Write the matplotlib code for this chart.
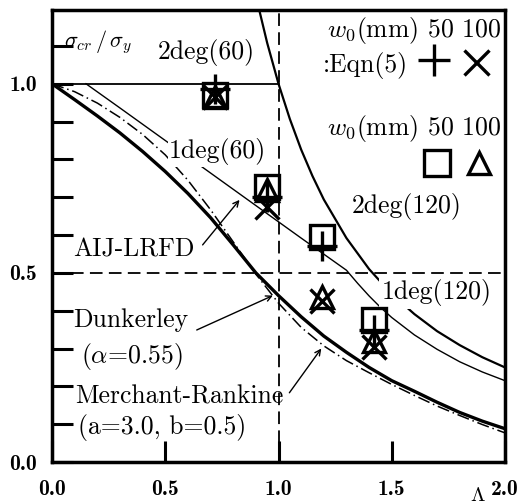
import matplotlib
matplotlib.use("Agg")
import matplotlib.pyplot as plt
from matplotlib.ticker import MultipleLocator, FixedLocator

plt.rcParams["mathtext.fontset"] = "cm"
plt.rcParams["axes.formatter.use_mathtext"] = True

# ---------------------------------------------------------------------------
# Curves
# ---------------------------------------------------------------------------
# Euler buckling, capped at 1.0 for short columns
EULER_X = [0.915, 0.95, 1.0, 1.05, 1.1, 1.15, 1.2, 1.3, 1.4, 1.5, 1.6, 1.7, 1.8, 1.9, 2.0]
EULER_Y = [1.195, 1.108, 1.0, 0.907, 0.826, 0.756, 0.694, 0.592, 0.510, 0.444,
           0.391, 0.346, 0.309, 0.277, 0.250]
CAP_X = [0.0, 1.0]
CAP_Y = [1.0, 1.0]

# AIJ-LRFD column curve
AIJ_X = [0.15, 0.30, 0.50, 0.70, 0.90, 1.10, 1.30, 1.35, 1.40, 1.45, 1.50,
         1.60, 1.70, 1.80, 1.90, 2.00]
AIJ_Y = [1.00, 0.936, 0.85, 0.764, 0.678, 0.592, 0.507, 0.472, 0.439, 0.409,
         0.382, 0.336, 0.298, 0.265, 0.238, 0.215]

LAM_GRID = [0.0, 0.1, 0.2, 0.3, 0.4, 0.5, 0.6, 0.7, 0.8, 0.9, 1.0,
            1.1, 1.2, 1.3, 1.4, 1.5, 1.6, 1.7, 1.8, 1.9, 2.0]

# Dunkerley (alpha = 0.55)
DK_Y = [1.0, 0.958, 0.915, 0.870, 0.821, 0.768, 0.710, 0.646, 0.574, 0.500, 0.440,
        0.384, 0.333, 0.290, 0.250, 0.215, 0.187, 0.158, 0.131, 0.108, 0.088]

# Merchant-Rankine (a = 3.0, b = 0.5)
MR_Y = [1.0, 0.979, 0.949, 0.911, 0.866, 0.812, 0.745, 0.667, 0.582, 0.497, 0.420,
        0.356, 0.307, 0.268, 0.236, 0.205, 0.176, 0.148, 0.123, 0.099, 0.077]

# ---------------------------------------------------------------------------
# Results: Eqn(5) and FEM, w0 = 50 mm / 100 mm
# ---------------------------------------------------------------------------
LAMBDA = [0.72, 0.95, 1.19, 1.42]
EQN_W50 = [0.985, 0.70, 0.57, 0.35]
EQN_W100 = [0.965, 0.675, 0.425, 0.305]
FEM_W50 = [0.97, 0.727, 0.595, 0.375]
FEM_W100 = [0.965, 0.72, 0.435, 0.32]

BLACK = "black"
TXT = dict(family="cmr10", fontsize=18.5, color=BLACK)

fig = plt.figure(figsize=(5.22, 5.04), dpi=100)
ax = fig.add_axes([52 / 522, 42 / 504, 453 / 522, 452 / 504])
ax.set_xlim(0, 2.0)
ax.set_ylim(0, 1.195)

# reference lines
ax.axhline(0.5, color=BLACK, lw=1.3, ls=(0, (7, 3.5)), zorder=1)
ax.axvline(1.0, color=BLACK, lw=1.3, ls=(0, (7, 3.5)), zorder=1)

ax.plot(CAP_X, CAP_Y, color=BLACK, lw=1.3, zorder=2)
ax.plot(EULER_X, EULER_Y, color=BLACK, lw=1.6, zorder=2)
ax.plot(AIJ_X, AIJ_Y, color=BLACK, lw=1.0, zorder=2)
ax.plot(LAM_GRID, DK_Y, color=BLACK, lw=2.4, zorder=2)
ax.plot(LAM_GRID, MR_Y, color=BLACK, lw=1.1, ls=(0, (8, 2.5, 1, 2.5)), zorder=2)

mk = dict(ls="none", mfc="none", mec=BLACK, mew=2.4, zorder=4)
ax.plot(LAMBDA, FEM_W50, marker="s", ms=17, **mk)
ax.plot(LAMBDA, FEM_W100, marker="^", ms=16, **mk)
ax.plot(LAMBDA, EQN_W50, marker="+", ms=22, **mk)
ax.plot(LAMBDA, EQN_W100, marker="x", ms=17, **mk)

# curve / case labels
ax.text(0.683, 1.082, "2deg(60)", ha="center", va="center", **TXT)
ax.text(0.731, 0.82, "1deg(60)", ha="center", va="center", zorder=3,
        bbox=dict(fc="white", ec="none", pad=1), **TXT)
ax.text(1.564, 0.675, "2deg(120)", ha="center", va="center", **TXT)
ax.text(1.70, 0.447, "1deg(120)", ha="center", va="center", zorder=3,
        bbox=dict(fc="white", ec="none", pad=2), **TXT)

ax.text(0.093, 0.561, "AIJ-LRFD", ha="left", va="center", **TXT)
ax.text(0.093, 0.376, "Dunkerley", ha="left", va="center", **TXT)
ax.text(0.13, 0.278, r"($\alpha$=0.55)", ha="left", va="center", **TXT)
ax.text(0.101, 0.172, "Merchant-Rankine", ha="left", va="center", **TXT)
ax.text(0.115, 0.09, "(a=3.0, b=0.5)", ha="left", va="center", **TXT)

arrow = dict(arrowstyle="->", color=BLACK, lw=1.0, shrinkA=0, shrinkB=0,
             mutation_scale=10)
ax.annotate("", xy=(0.828, 0.693), xytext=(0.665, 0.574), arrowprops=arrow)
ax.annotate("", xy=(0.975, 0.44), xytext=(0.639, 0.349), arrowprops=arrow)
ax.annotate("", xy=(1.189, 0.30), xytext=(1.048, 0.183), arrowprops=arrow)

ax.text(0.055, 1.111, r"$\sigma_{cr}\,/\,\sigma_y$", ha="left", va="center",
        fontsize=16, color=BLACK)

# key
ax.text(1.216, 1.14, r"$w_0$(mm) 50 100", ha="left", va="center", **TXT)
ax.text(1.194, 1.048, ":Eqn(5)", ha="left", va="center", **TXT)
ax.plot([1.687], [1.063], marker="+", ms=23, **mk)
ax.plot([1.872], [1.058], marker="x", ms=18, **mk)
ax.text(1.216, 0.881, r"$w_0$(mm) 50 100", ha="left", va="center", **TXT)
ax.plot([1.70], [0.791], marker="s", ms=19, **mk)
ax.plot([1.885], [0.791], marker="^", ms=16, **mk)

# axes frame and ticks
for s in ax.spines.values():
    s.set_linewidth(2.5)
ax.xaxis.set_major_locator(FixedLocator([0.0, 0.5, 1.0, 1.5, 2.0]))
ax.yaxis.set_major_locator(FixedLocator([0.0, 0.5, 1.0]))
ax.yaxis.set_minor_locator(MultipleLocator(0.1))
ax.xaxis.set_major_formatter(lambda v, p: f"{v:.1f}")
ax.yaxis.set_major_formatter(lambda v, p: f"{v:.1f}")
ax.tick_params(which="both", direction="in", length=15, width=2.2)
ax.tick_params(axis="x", which="major", pad=13)
ax.tick_params(axis="y", which="major", pad=11)
for lab in ax.get_xticklabels() + ax.get_yticklabels():
    lab.set_family("cmb10")
    lab.set_fontsize(15.5)

ax.text(1.88, -0.088, r"$\Lambda$", ha="center", va="center", fontsize=15,
        color=BLACK, clip_on=False)

fig.savefig("out.png", dpi=100)
